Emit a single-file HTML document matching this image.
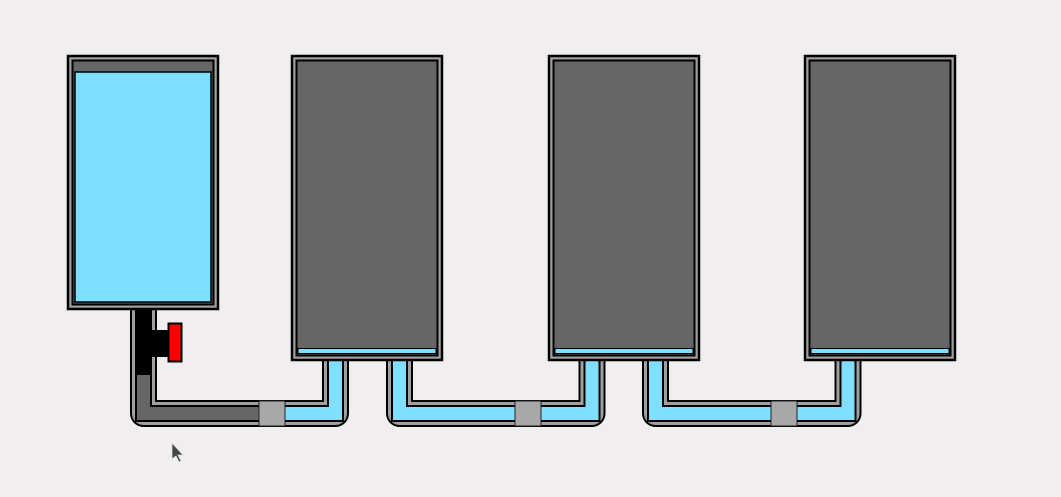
<!DOCTYPE html>
<html><head><meta charset="utf-8"><style>html,body{margin:0;padding:0;background:#f0eeef;}svg{display:block}</style></head>
<body>
<svg width="1061" height="497" viewBox="0 0 1061 497" xmlns="http://www.w3.org/2000/svg">
<g fill="none" stroke-linejoin="round">
  <path d="M143.5 305 V413.5 H335.5 V355" stroke="#000" stroke-width="27"/>
  <path d="M143.5 305 V413.5 H335.5 V355" stroke="#a0a0a0" stroke-width="23"/>
  <path d="M143.5 305 V413.5 H335.5 V355" stroke="#000" stroke-width="17" stroke-linejoin="miter"/>
  <path d="M272 413.5 H335.5 V355" stroke="#80dfff" stroke-width="13" stroke-linejoin="miter"/>
  <path d="M143.5 375 V413.5 H272" stroke="#666" stroke-width="13" stroke-linejoin="miter"/>

  <path d="M399.5 355 V413.5 H592 V355" stroke="#000" stroke-width="27"/>
  <path d="M399.5 355 V413.5 H592 V355" stroke="#a0a0a0" stroke-width="23"/>
  <path d="M399.5 355 V413.5 H592 V355" stroke="#000" stroke-width="17" stroke-linejoin="miter"/>
  <path d="M399.5 355 V413.5 H592 V355" stroke="#80dfff" stroke-width="13" stroke-linejoin="miter"/>

  <path d="M655.5 355 V413.5 H848 V355" stroke="#000" stroke-width="27"/>
  <path d="M655.5 355 V413.5 H848 V355" stroke="#a0a0a0" stroke-width="23"/>
  <path d="M655.5 355 V413.5 H848 V355" stroke="#000" stroke-width="17" stroke-linejoin="miter"/>
  <path d="M655.5 355 V413.5 H848 V355" stroke="#80dfff" stroke-width="13" stroke-linejoin="miter"/>
</g>
<rect x="137" y="305" width="15" height="70" fill="#000"/>
<rect x="150" y="330" width="20" height="27" fill="#000"/>
<rect x="168.5" y="323.5" width="13" height="38" fill="#ff0000" stroke="#000" stroke-width="2"/>
<rect x="259" y="401" width="26" height="25" fill="#a8a8a8" stroke="#222" stroke-width="1"/>
<rect x="515" y="401" width="26" height="25" fill="#a8a8a8" stroke="#222" stroke-width="1"/>
<rect x="771" y="401" width="26" height="25" fill="#a8a8a8" stroke="#222" stroke-width="1"/>
<rect x="68" y="56" width="150" height="253" fill="#a0a0a0" stroke="#000" stroke-width="2.5"/>
<rect x="72.5" y="60.5" width="141" height="244" fill="#666" stroke="#000" stroke-width="2"/>
<rect x="75" y="72" width="136" height="230" fill="#80dfff" stroke="#000" stroke-width="1.5"/>
<g>
<rect x="292" y="56" width="150" height="304" fill="#a0a0a0" stroke="#000" stroke-width="2.5"/>
<rect x="296.5" y="60.5" width="141" height="295" fill="#666" stroke="#000" stroke-width="2"/>
<rect x="298" y="348.5" width="138" height="5" fill="#80dfff" stroke="#000" stroke-width="1"/>
</g>
<g>
<rect x="549" y="56" width="150" height="304" fill="#a0a0a0" stroke="#000" stroke-width="2.5"/>
<rect x="553.5" y="60.5" width="141" height="295" fill="#666" stroke="#000" stroke-width="2"/>
<rect x="555" y="348.5" width="138" height="5" fill="#80dfff" stroke="#000" stroke-width="1"/>
</g>
<g>
<rect x="805" y="56" width="150" height="304" fill="#a0a0a0" stroke="#000" stroke-width="2.5"/>
<rect x="809.5" y="60.5" width="141" height="295" fill="#666" stroke="#000" stroke-width="2"/>
<rect x="811" y="348.5" width="138" height="5" fill="#80dfff" stroke="#000" stroke-width="1"/>
</g>
<path d="M172 443 L172 459 L176 456 L179 462 L181 461 L178 455 L183 455 Z" fill="#444" stroke="#ddd" stroke-width="0.8"/>
</svg>
</body></html>
